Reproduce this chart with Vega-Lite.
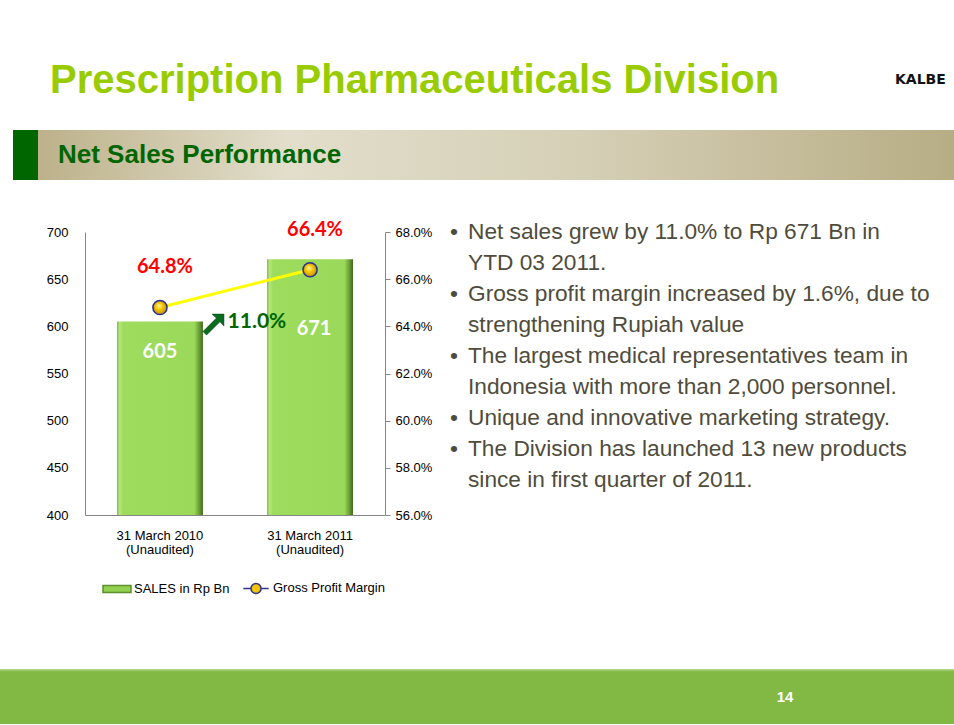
{
  "$schema": "https://vega.github.io/schema/vega-lite/v6.json",
  "background": "white",
  "padding": {"left": 0, "top": 61, "right": 0, "bottom": 0},
  "title": {"text": "Prescription Pharmaceuticals Division", "anchor": "start", "dx": 50, "font": "Liberation Sans", "fontSize": 40, "fontWeight": "bold", "color": "#99CC00", "baseline": "alphabetic", "offset": -60},
  "spacing": 39,
  "resolve": {"legend": {"fill": "independent", "stroke": "independent", "shape": "independent"}},
  "config": {"view": {"stroke": null}, "font": "Liberation Sans", "legend": {"layout": {"bottom": {"anchor": "end"}}}},
  "vconcat": [
    {
      "width": 954,
      "height": 50,
      "data": {"values": [{"section": "Net Sales Performance", "brand": "KALBE"}]},
      "layer": [
        {
          "mark": {"type": "rect", "color": {"gradient": "linear", "x1": 0, "y1": 0, "x2": 1, "y2": 0, "stops": [
            {"offset": 0, "color": "#FFFFFF"}, {"offset": 0.0136, "color": "#FFFFFF"},
            {"offset": 0.0137, "color": "#006600"}, {"offset": 0.0398, "color": "#006600"},
            {"offset": 0.0399, "color": "#BCB18A"}, {"offset": 0.3, "color": "#E2DECB"},
            {"offset": 0.6, "color": "#D6D0B7"}, {"offset": 1, "color": "#B7AD85"}]}},
          "encoding": {}
        },
        {
          "mark": {"type": "text", "align": "left", "baseline": "middle", "dx": -419, "font": "Liberation Sans", "fontSize": 26, "fontWeight": "bold", "color": "#006600"},
          "encoding": {"text": {"field": "section", "type": "nominal"}}
        },
        {
          "mark": {"type": "text", "align": "left", "baseline": "middle", "dx": 418, "dy": -75, "font": "DejaVu Sans", "fontSize": 14, "fontWeight": "bold", "color": "#111111"},
          "encoding": {"text": {"field": "brand", "type": "nominal"}}
        }
      ]
    },
    {
      "bounds": "flush",
      "spacing": 45,
      "resolve": {"legend": {"fill": "independent", "stroke": "independent", "shape": "independent"}},
      "hconcat": [
        {
          "width": 40,
          "height": 10,
          "data": {"values": []},
          "mark": {"type": "point"}
        },
        {
          "width": 300,
          "height": 283,
          "data": {"values": [
            {"period": "31 March 2010", "sales": 605, "gpm": 0.648},
            {"period": "31 March 2011", "sales": 671, "gpm": 0.664}
          ]},
          "encoding": {
            "x": {"field": "period", "type": "nominal",
              "scale": {"paddingInner": 0.427, "paddingOuter": 0.213},
              "axis": {"title": null, "labelAngle": 0, "ticks": false, "domainColor": "#868686", "labelFont": "Liberation Sans", "labelFontSize": 13, "labelColor": "#000000", "labelPadding": 14, "labelLineHeight": 14, "labelExpr": "[datum.label, '(Unaudited)']"}}
          },
          "resolve": {"scale": {"y": "independent"}},
          "layer": [
            {
              "encoding": {
                "y": {"field": "sales", "type": "quantitative",
                  "scale": {"domain": [400, 700], "zero": false, "nice": false},
                  "axis": {"orient": "left", "title": null, "values": [400, 450, 500, 550, 600, 650, 700], "ticks": false, "grid": false, "domainColor": "#868686", "labelFont": "Liberation Sans", "labelFontSize": 13, "labelColor": "#000000", "labelPadding": 17, "minExtent": 85}}
              },
              "layer": [
                {"mark": {"type": "bar", "color": {"gradient": "linear", "x1": 0, "y1": 0, "x2": 1, "y2": 0, "stops": [
                  {"offset": 0, "color": "#7FB848"}, {"offset": 0.03, "color": "#B4E67C"}, {"offset": 0.07, "color": "#9EDC5E"},
                  {"offset": 0.9, "color": "#9AD95A"}, {"offset": 0.95, "color": "#6FA53A"}, {"offset": 1, "color": "#3F6A1D"}]}},
                  "encoding": {"y2": {"datum": 400}}},
                {
                  "transform": [{"filter": "datum.period === '31 March 2010'"}],
                  "mark": {"type": "text", "dy": 30, "font": "Lato", "fontSize": 20, "fontWeight": "bold", "color": "white"},
                  "encoding": {"text": {"field": "sales", "type": "quantitative"}}
                },
                {
                  "transform": [{"filter": "datum.period === '31 March 2011'"}],
                  "mark": {"type": "text", "dy": 70, "dx": 4, "font": "Lato", "fontSize": 20, "fontWeight": "bold", "color": "white"},
                  "encoding": {"text": {"field": "sales", "type": "quantitative"}}
                },
                {
                  "data": {"values": [{"period": "31 March 2010", "sales": 605, "growth": 0.11}]},
                  "mark": {"type": "text", "dx": 97, "font": "Lato", "fontSize": 21, "fontWeight": "bold", "color": "#006600"},
                  "encoding": {"text": {"field": "growth", "type": "quantitative", "format": ".1%"}}
                },
                {
                  "data": {"values": [{"period": "31 March 2010", "sales": 605, "growth": 0.11}]},
                  "mark": {"type": "point", "shape": "M-1,0.66L0.28,-0.62L-0.14,-1L1,-1L1,0.14L0.62,-0.28L-0.66,1Z", "filled": true, "size": 441, "color": "#0B6B1E", "stroke": "#064010", "strokeWidth": 0.5, "opacity": 1, "xOffset": 53.5, "yOffset": 3}
                }
              ]
            },
            {
              "encoding": {
                "y": {"field": "gpm", "type": "quantitative",
                  "scale": {"domain": [0.56, 0.68], "zero": false, "nice": false},
                  "axis": {"orient": "right", "title": null, "values": [0.56, 0.58, 0.6, 0.62, 0.64, 0.66, 0.68], "format": ".1%", "ticks": true, "tickSize": 5, "tickColor": "#868686", "grid": false, "domainColor": "#868686", "labelFont": "Liberation Sans", "labelFontSize": 13, "labelColor": "#000000", "labelPadding": 5}}
              },
              "layer": [
                {"mark": {"type": "line", "color": "#FFFF00", "strokeWidth": 3}},
                {"mark": {"type": "point", "filled": true, "size": 200, "opacity": 1, "stroke": "#2E3092", "strokeWidth": 1.5,
                  "color": {"gradient": "radial", "x1": 0.4, "y1": 0.35, "r1": 0, "x2": 0.5, "y2": 0.5, "r2": 0.55, "stops": [
                    {"offset": 0, "color": "#FFF7B0"}, {"offset": 0.45, "color": "#F7C800"}, {"offset": 1, "color": "#B8860B"}]}}},
                {
                  "mark": {"type": "text", "dy": -40, "dx": 5, "font": "Lato", "fontSize": 20, "fontWeight": "bold", "color": "#FF0000"},
                  "encoding": {"text": {"field": "gpm", "type": "quantitative", "format": ".1%"}}
                },
                {
                  "data": {"values": []},
                  "mark": {"type": "point", "filled": true, "opacity": 1, "strokeWidth": 1.5},
                  "encoding": {
                    "fill": {"field": "series", "type": "nominal",
                      "scale": {"domain": ["SALES in Rp Bn", "Gross Profit Margin"], "range": ["#92D050", "#F5C400"]},
                      "legend": {"title": null, "orient": "bottom", "direction": "horizontal", "offset": 17, "symbolSize": 784, "symbolStrokeWidth": 1.5, "symbolOpacity": 1, "labelFont": "Liberation Sans", "labelFontSize": 13, "labelColor": "#000000", "labelOffset": 2, "columnPadding": 10, "padding": 0}},
                    "stroke": {"field": "series", "type": "nominal",
                      "scale": {"domain": ["SALES in Rp Bn", "Gross Profit Margin"], "range": ["#5E8F2C", "#2E3092"]},
                      "legend": {"title": null, "orient": "bottom", "direction": "horizontal", "offset": 17, "symbolSize": 784, "symbolStrokeWidth": 1.5, "symbolOpacity": 1, "labelFont": "Liberation Sans", "labelFontSize": 13, "labelColor": "#000000", "labelOffset": 2, "columnPadding": 10, "padding": 0}},
                    "shape": {"field": "series", "type": "nominal",
                      "scale": {"domain": ["SALES in Rp Bn", "Gross Profit Margin"], "range": ["M-1,-0.25H1V0.25H-1Z", "M-0.9,0H-0.36M0.36,0H0.9M0.36,0A0.36,0.36,0,1,1,-0.36,0A0.36,0.36,0,1,1,0.36,0Z"]},
                      "legend": {"title": null, "orient": "bottom", "direction": "horizontal", "offset": 17, "symbolSize": 784, "symbolStrokeWidth": 1.5, "symbolOpacity": 1, "labelFont": "Liberation Sans", "labelFontSize": 13, "labelColor": "#000000", "labelOffset": 2, "columnPadding": 10, "padding": 0}}
                  }
                }
              ]
            }
          ]
        },
        {
          "width": 76,
          "height": 398,
          "data": {"values": [
            {"line": 1, "bullet": "•", "text": "Net sales grew by 11.0% to Rp 671 Bn in"},
            {"line": 2, "bullet": "", "text": "YTD 03 2011."},
            {"line": 3, "bullet": "•", "text": "Gross profit margin increased by 1.6%, due to"},
            {"line": 4, "bullet": "", "text": "strengthening Rupiah value"},
            {"line": 5, "bullet": "•", "text": "The largest medical representatives team in"},
            {"line": 6, "bullet": "", "text": "Indonesia with more than 2,000 personnel."},
            {"line": 7, "bullet": "•", "text": "Unique and innovative marketing strategy."},
            {"line": 8, "bullet": "•", "text": "The Division has launched 13 new products"},
            {"line": 9, "bullet": "", "text": "since in first quarter of 2011."}
          ]},
          "encoding": {
            "y": {"field": "line", "type": "quantitative", "scale": {"domain": [1, 13.84], "reverse": true, "zero": false, "nice": false}, "axis": null}
          },
          "layer": [
            {
              "mark": {"type": "text", "align": "left", "baseline": "middle", "font": "Liberation Sans", "fontSize": 22.7, "color": "#4F4C3C"},
              "encoding": {"text": {"field": "text", "type": "nominal"}}
            },
            {
              "mark": {"type": "text", "align": "left", "baseline": "middle", "dx": -18, "font": "Liberation Sans", "fontSize": 22.7, "color": "#4F4C3C"},
              "encoding": {"text": {"field": "bullet", "type": "nominal"}}
            }
          ]
        }
      ]
    },
    {
      "width": 954,
      "height": 55,
      "data": {"values": [{"page": "14"}]},
      "layer": [
        {
          "mark": {"type": "rect", "color": {"gradient": "linear", "x1": 0, "y1": 0, "x2": 0, "y2": 1, "stops": [
            {"offset": 0, "color": "#B3D98A"}, {"offset": 0.05, "color": "#82B944"}, {"offset": 1, "color": "#82B944"}]}},
          "encoding": {}
        },
        {
          "mark": {"type": "text", "dx": 308, "baseline": "middle", "font": "Liberation Sans", "fontSize": 15, "fontWeight": "bold", "color": "white"},
          "encoding": {"text": {"field": "page", "type": "nominal"}}
        }
      ]
    }
  ]
}
